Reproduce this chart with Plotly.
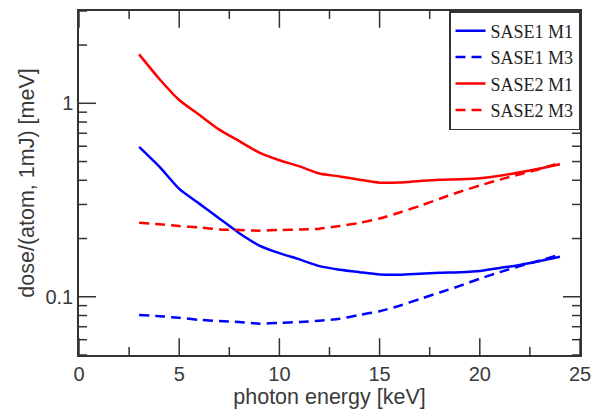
import math
import plotly.graph_objects as go

# photon energy grid [keV]
energy = [3, 4, 5, 6, 7, 8, 9, 10, 11, 12, 13, 14, 15, 16, 17, 18, 19, 20, 21, 22, 23, 24]

# dose per atom for 1 mJ pulse [meV]
sase1_m1 = [0.596, 0.472, 0.361, 0.303, 0.254, 0.213, 0.184, 0.168, 0.156, 0.144, 0.138,
            0.134, 0.1305, 0.130, 0.1315, 0.133, 0.134, 0.136, 0.141, 0.146, 0.153, 0.161]
sase1_m3 = [0.0806, 0.0794, 0.0778, 0.0760, 0.0749, 0.0740, 0.0726, 0.0733, 0.0740, 0.0752,
            0.0769, 0.0806, 0.0842, 0.0899, 0.0973, 0.1052, 0.1138, 0.124, 0.134, 0.144, 0.154, 0.165]
sase2_m1 = [1.79, 1.34, 1.04, 0.872, 0.731, 0.637, 0.556, 0.508, 0.472, 0.434, 0.419,
            0.403, 0.389, 0.390, 0.397, 0.403, 0.405, 0.410, 0.422, 0.440, 0.460, 0.484]
sase2_m3 = [0.241, 0.237, 0.232, 0.228, 0.223, 0.2215, 0.2197, 0.2215, 0.2225, 0.225, 0.232,
            0.241, 0.254, 0.2725, 0.295, 0.321, 0.349, 0.376, 0.403, 0.430, 0.457, 0.492]

series = [
    ("SASE1 M1", sase1_m1, "#0000ff", "solid"),
    ("SASE1 M3", sase1_m3, "#0000ff", "10px,6px"),
    ("SASE2 M1", sase2_m1, "#ff0000", "solid"),
    ("SASE2 M3", sase2_m3, "#ff0000", "10px,6px"),
]

# tick positions
x_major = [0, 5, 10, 15, 20, 25]
x_minor = [2.5, 7.5, 12.5, 17.5, 22.5]
y_major = [0.1, 1]
y_major_text = ["0.1", "1"]
y_minor = [0.05, 0.06, 0.07, 0.08, 0.09, 0.2, 0.3, 0.4, 0.5, 0.6, 0.7, 0.8, 0.9, 2, 3]

W, H = 601, 412
M = dict(l=79, r=21, t=9, b=55)
plot_w = W - M["l"] - M["r"]
plot_h = H - M["t"] - M["b"]
x_range = [0, 25]
y_range = [math.log10(0.05), math.log10(3)]

ink = "#333333"
tick_font = dict(family="Liberation Sans, Arial", size=20, color="#3a3a3a")
title_font = dict(family="Liberation Sans, Arial", size=21.5, color="#3a3a3a")

fig = go.Figure()
for name, vals, color, dash in series:
    fig.add_trace(go.Scatter(x=energy, y=vals, name=name, mode="lines",
                             line=dict(color=color, width=2.5, dash=dash,
                                       shape="spline", smoothing=0.6)))

# inward tick marks on all four sides, built as one path (px lengths -> axis units)
x_per_px = (x_range[1] - x_range[0]) / plot_w
ly_per_px = (y_range[1] - y_range[0]) / plot_h
tx, ty = [], []
for xv, ln in [(v, 17) for v in x_major] + [(v, 8) for v in x_minor]:
    d = ln * ly_per_px
    tx += [xv, xv, None, xv, xv, None]
    ty += [10 ** y_range[0], 10 ** (y_range[0] + d), None,
           10 ** y_range[1], 10 ** (y_range[1] - d), None]
for yv, ln in [(v, 17) for v in y_major] + [(v, 8) for v in y_minor]:
    d = ln * x_per_px
    tx += [x_range[0], x_range[0] + d, None, x_range[1], x_range[1] - d, None]
    ty += [yv, yv, None, yv, yv, None]
fig.add_trace(go.Scatter(x=tx, y=ty, mode="lines", showlegend=False, hoverinfo="skip",
                         line=dict(color=ink, width=1.5), cliponaxis=False))

fig.update_layout(
    template="simple_white",
    width=W, height=H,
    margin=M,
    paper_bgcolor="white", plot_bgcolor="white",
    xaxis=dict(range=x_range, tickmode="array", tickvals=x_major, ticks="",
               showline=True, linecolor=ink, linewidth=1.5, mirror=True,
               showgrid=False, zeroline=False, tickfont=tick_font,
               title=dict(text="photon energy [keV]", font=title_font, standoff=3)),
    yaxis=dict(type="log", range=y_range, tickmode="array",
               tickvals=y_major, ticktext=y_major_text, ticks="",
               showline=True, linecolor=ink, linewidth=1.5, mirror=True,
               showgrid=False, zeroline=False, tickfont=tick_font,
               title=dict(text="dose/(atom, 1mJ) [meV]", font=title_font, standoff=5)),
    showlegend=True,
    legend=dict(x=1, y=1, xanchor="right", yanchor="top",
                bordercolor="#333333", borderwidth=1.5, bgcolor="white",
                font=dict(family="Liberation Serif, Times New Roman", size=18, color="#222222"),
                itemwidth=30, tracegroupgap=0),
)

fig.write_html("out.html")
